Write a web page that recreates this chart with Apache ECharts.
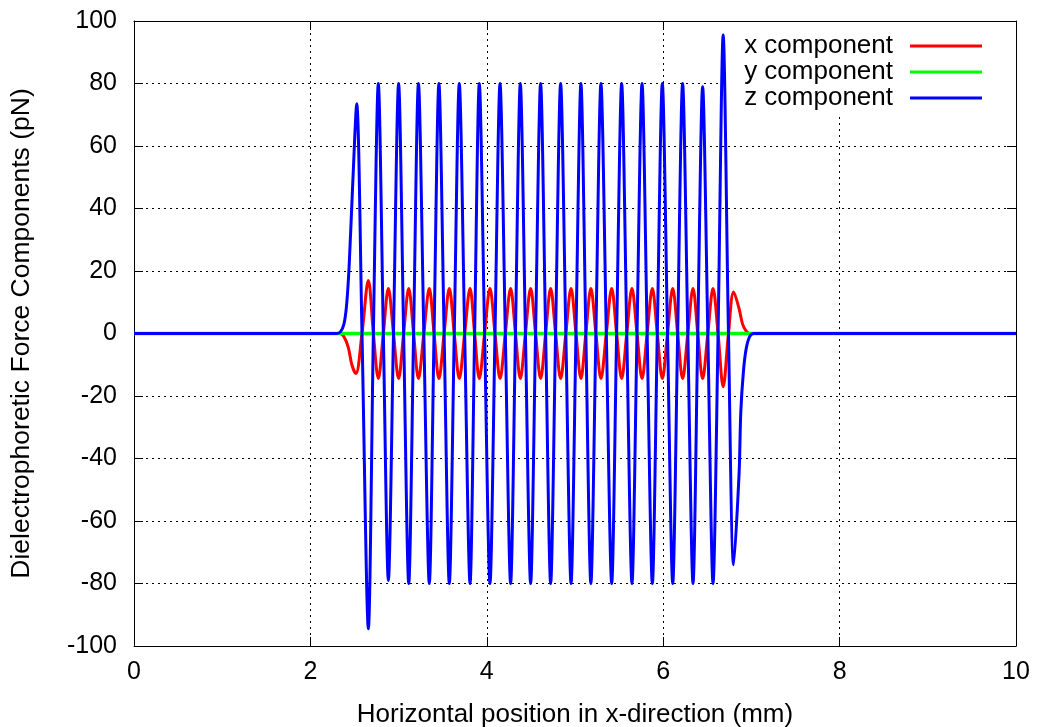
<!DOCTYPE html>
<html>
<head>
<meta charset="utf-8">
<title>Dielectrophoretic Force Components</title>
<script src="https://cdn.jsdelivr.net/npm/echarts@6/dist/echarts.min.js"></script>
<style>
  html, body { margin: 0; padding: 0; background: #fff; }
  #chart { width: 1037px; height: 727px; }
</style>
</head>
<body>
<div id="chart"></div>
<script>
// x positions of the oscillating part (zero crossing, extreme, zero crossing, extreme, ...)
const oscX = [
  2.585, 2.657, 2.714, 2.77, 2.827, 2.884, 2.942, 3.0, 3.057, 3.115,
  3.17, 3.225, 3.286, 3.348, 3.402, 3.457, 3.516, 3.575, 3.631, 3.688,
  3.749, 3.81, 3.862, 3.915, 3.975, 4.036, 4.093, 4.15, 4.21, 4.27,
  4.325, 4.38, 4.438, 4.497, 4.553, 4.61, 4.667, 4.724, 4.78, 4.837,
  4.896, 4.955, 5.011, 5.067, 5.123, 5.18, 5.237, 5.294, 5.355, 5.416,
  5.472, 5.529, 5.587, 5.646, 5.703, 5.76, 5.818, 5.877, 5.933, 5.99,
  6.049, 6.108, 6.164, 6.22, 6.279, 6.338, 6.392, 6.447, 6.506, 6.565,
  6.622, 6.68, 6.74, 6.799
];

// z component (pN)
const zX = [0, 2.30, 2.34, 2.38, 2.41, 2.44, 2.48, 2.525]
  .concat(oscX)
  .concat([6.86, 6.88, 6.91, 6.94, 6.98, 7.03, 10]);
const zY = [0, 0, 0.5, 3, 9, 22, 48, 73.5,
  0, -94.5, 0, 80, 0, -79, 0, 80, 0, -80,
  0, 80, 0, -80, 0, 80, 0, -80, 0, 80,
  0, -80, 0, 80, 0, -80, 0, 80, 0, -80,
  0, 80, 0, -80, 0, 80, 0, -80, 0, 80,
  0, -80, 0, 80, 0, -80, 0, 80, 0, -80,
  0, 80, 0, -80, 0, 80, 0, -80, 0, 80,
  0, -80, 0, 80, 0, -80, 0, 79, 0, -80,
  0, 95.5, 0, -74,
  -45, -25, -12, -5, -1, 0, 0];

// x component (pN)
const xX = [0, 2.33, 2.38, 2.43, 2.47, 2.515]
  .concat(oscX)
  .concat([6.86, 6.90, 6.94, 6.98, 10]);
const xY = [0, 0, -1, -4.5, -10, -12.8,
  0, 17, 0, -14.4, 0, 14.4, 0, -14.4, 0, 14.4,
  0, -14.4, 0, 14.4, 0, -14.4, 0, 14.4, 0, -14.4,
  0, 14.4, 0, -14.4, 0, 14.4, 0, -14.4, 0, 14.4,
  0, -14.4, 0, 14.4, 0, -14.4, 0, 14.4, 0, -14.4,
  0, 14.4, 0, -14.4, 0, 14.4, 0, -14.4, 0, 14.4,
  0, -14.4, 0, 14.4, 0, -14.4, 0, 14.4, 0, -14.4,
  0, 14.4, 0, -14.4, 0, 14.4, 0, -14.4, 0, 14.4,
  0, -17, 0, 13.3,
  8, 3, 0.8, 0, 0];

// y component (pN)
const yX = [0, 10];
const yY = [0, 0];

const seriesNames = ['x component', 'y component', 'z component'];
const seriesColors = ['#ff0000', '#00ff00', '#0000ff'];

const font = "'Liberation Sans', Arial, Helvetica, sans-serif";

const pairs = (xs, ys) => xs.map((x, i) => [x, ys[i]]);

const gridLine = { color: '#000', type: [2, 4], width: 1 };
const frameLine = { show: true, onZero: false, lineStyle: { color: '#000', width: 1 } };
const frameTick = { show: true, inside: true, length: 9, lineStyle: { color: '#000' } };

const chart = echarts.init(document.getElementById('chart'));

const option = {
  animation: false,
  backgroundColor: '#fff',
  textStyle: { fontFamily: font, color: '#000' },
  grid: { left: 134, right: 21, top: 21, bottom: 81, outerBoundsMode: 'none' },
  legend: {
    orient: 'vertical',
    right: 21,
    top: 22,
    align: 'right',
    z: 1,
    backgroundColor: '#fff',
    padding: [11, 34, 3, 25],
    icon: 'rect',
    itemWidth: 72,
    itemHeight: 3,
    itemGap: 0,
    textStyle: {
      fontFamily: font,
      fontSize: 26,
      color: '#000',
      lineHeight: 26,
      padding: [0, 12, 0, 0]
    },
    data: seriesNames
  },
  xAxis: [
    {
      type: 'value',
      min: 0,
      max: 10,
      interval: 2,
      name: 'Horizontal position in x-direction (mm)',
      nameLocation: 'middle',
      nameGap: 56,
      nameTextStyle: { fontFamily: font, fontSize: 26, color: '#000' },
      axisLine: frameLine,
      axisTick: frameTick,
      axisLabel: { fontFamily: font, fontSize: 25, color: '#000', margin: 14 },
      splitLine: { show: true, lineStyle: gridLine }
    },
    {
      type: 'value',
      position: 'top',
      min: 0,
      max: 10,
      interval: 2,
      axisLine: frameLine,
      axisTick: frameTick,
      axisLabel: { show: false },
      splitLine: { show: false }
    }
  ],
  yAxis: [
    {
      type: 'value',
      min: -100,
      max: 100,
      interval: 20,
      name: 'Dielectrophoretic Force Components (pN)',
      nameLocation: 'middle',
      nameGap: 99,
      nameTruncate: { maxWidth: 800 },
      nameTextStyle: {
        fontFamily: font,
        fontSize: 26.5,
        color: '#000',
        width: 800,
        overflow: 'none'
      },
      axisLine: frameLine,
      axisTick: frameTick,
      axisLabel: { fontFamily: font, fontSize: 25, color: '#000', margin: 17 },
      splitLine: { show: true, lineStyle: gridLine }
    },
    {
      type: 'value',
      position: 'right',
      min: -100,
      max: 100,
      interval: 20,
      axisLine: frameLine,
      axisTick: frameTick,
      axisLabel: { show: false },
      splitLine: { show: false }
    }
  ],
  series: [
    {
      name: seriesNames[0],
      type: 'line',
      data: pairs(xX, xY),
      smooth: 0.35,
      symbol: 'none',
      z: 2,
      lineStyle: { width: 3, color: seriesColors[0] },
      itemStyle: { color: seriesColors[0] }
    },
    {
      name: seriesNames[1],
      type: 'line',
      data: pairs(yX, yY),
      symbol: 'none',
      z: 3,
      lineStyle: { width: 3.5, color: seriesColors[1] },
      itemStyle: { color: seriesColors[1] }
    },
    {
      name: seriesNames[2],
      type: 'line',
      data: pairs(zX, zY),
      smooth: 0.3,
      symbol: 'none',
      z: 4,
      lineStyle: { width: 3, color: seriesColors[2] },
      itemStyle: { color: seriesColors[2] }
    }
  ]
};

chart.setOption(option);
</script>
</body>
</html>
